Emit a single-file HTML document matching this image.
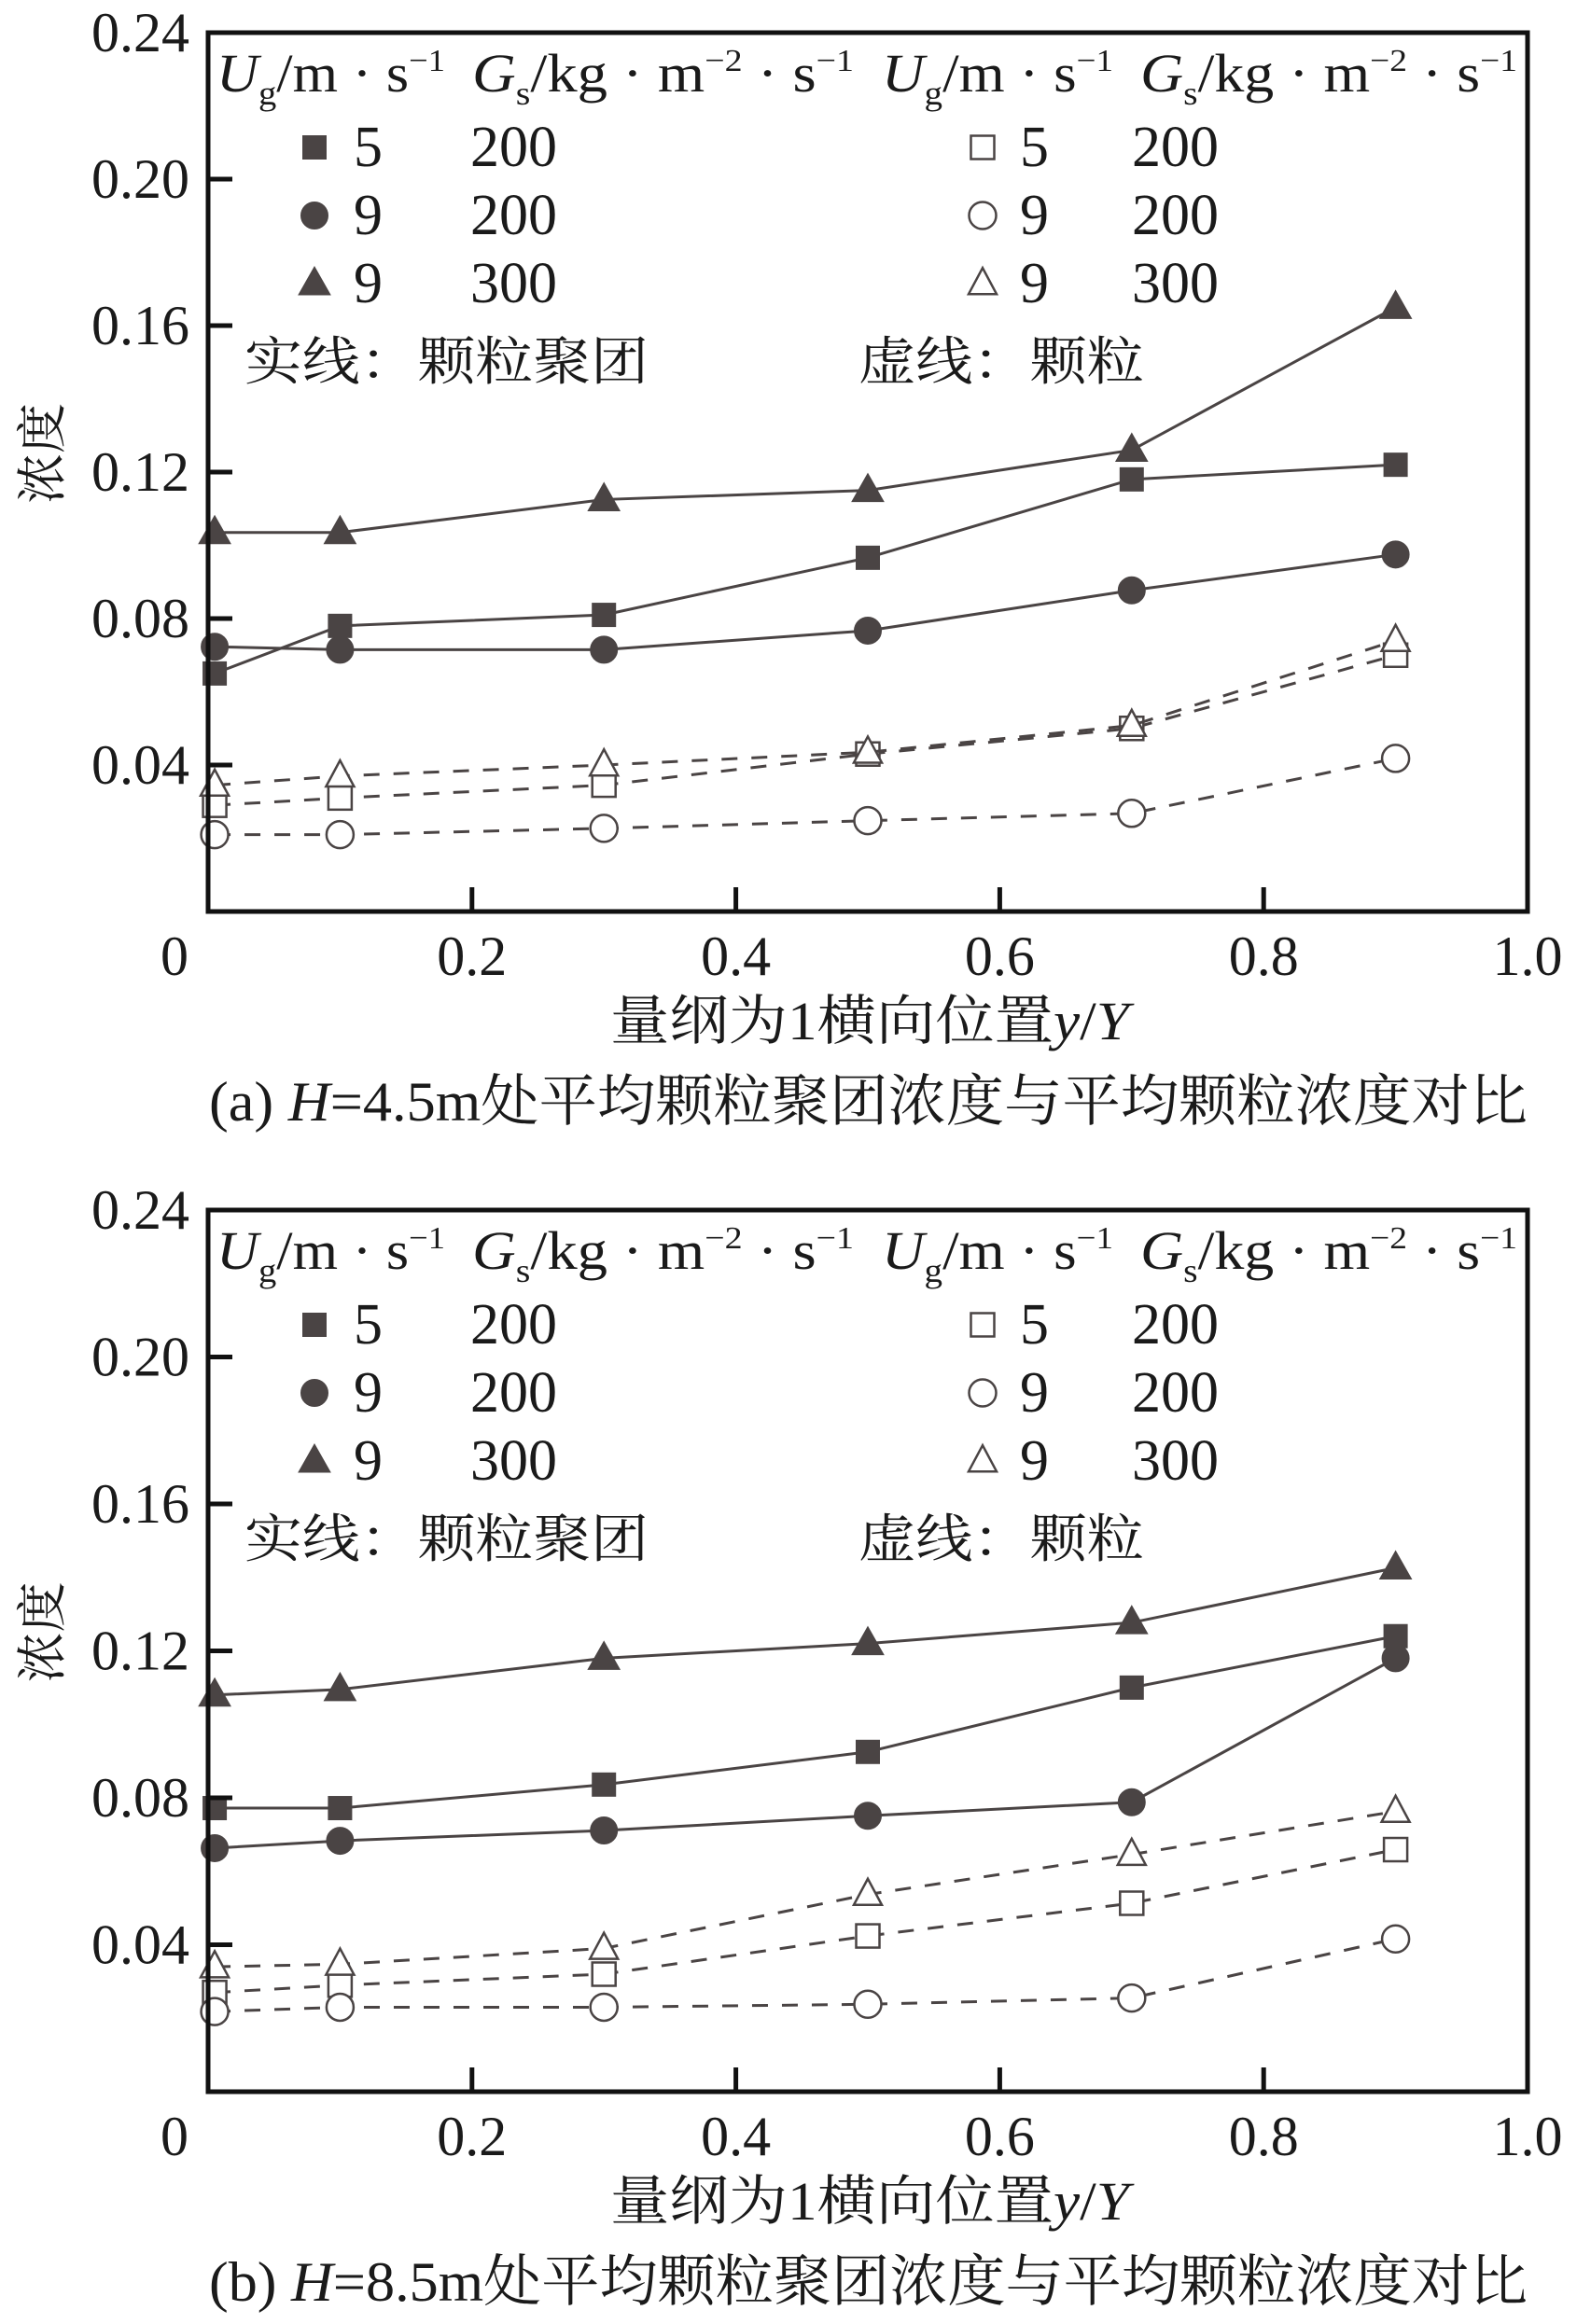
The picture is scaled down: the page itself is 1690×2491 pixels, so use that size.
<!DOCTYPE html>
<html><head><meta charset="utf-8"><style>
html,body{margin:0;padding:0;background:#fff;}
svg{display:block;}
text{font-family:"Liberation Serif","Noto Serif CJK SC","Noto Sans CJK SC",serif;fill:#1a1a1a;}
</style></head><body>
<svg id="chart" width="1690" height="2491" viewBox="0 0 1690 2491" xmlns="http://www.w3.org/2000/svg"></svg>
<script>
const xValues = [0.005, 0.1, 0.3, 0.5, 0.7, 0.9];
const yTicks = [0.04, 0.08, 0.12, 0.16, 0.20, 0.24];
const yTickLabels = ["0.04","0.08","0.12","0.16","0.20","0.24"];
const xTicks = [0, 0.2, 0.4, 0.6, 0.8, 1.0];
const xTickLabels = ["0","0.2","0.4","0.6","0.8","1.0"];
// panel a
const aTriFilled = [0.1035,0.1035,0.1125,0.115,0.126,0.165];
const aSqFilled = [0.065,0.078,0.081,0.0966,0.118,0.122];
const aCirFilled = [0.0723,0.0715,0.0715,0.0767,0.0877,0.0975];
const aTriOpen = [0.0345,0.037,0.040,0.0435,0.0508,0.074];
const aSqOpen = [0.029,0.031,0.0345,0.043,0.050,0.070];
const aCirOpen = [0.021,0.021,0.0227,0.0248,0.0268,0.0418];
// panel b
const bTriFilled = [0.108,0.1095,0.118,0.122,0.1277,0.1426];
const bSqFilled = [0.0772,0.0772,0.0836,0.0925,0.110,0.124];
const bCirFilled = [0.0663,0.0683,0.0711,0.0751,0.0788,0.118];
const bTriOpen = [0.034,0.0347,0.039,0.0537,0.0646,0.0763];
const bSqOpen = [0.027,0.029,0.032,0.0424,0.0513,0.0659];
const bCirOpen = [0.0218,0.023,0.023,0.0238,0.0255,0.0416];

const NS="http://www.w3.org/2000/svg";
const svg=document.getElementById('chart');
const C="#4a4444";
function mk(tag,attrs,parent){const e=document.createElementNS(NS,tag);for(const k in attrs)e.setAttribute(k,attrs[k]);(parent||svg).appendChild(e);return e;}
function txt(parent,x,y,s,size,anchor,len){const t=mk('text',{x:x,y:y,'font-size':size,'text-anchor':anchor||'start'},parent);t.innerHTML=s;if(len){t.setAttribute('textLength',len);t.setAttribute('lengthAdjust','spacingAndGlyphs');}return t;}

function marker(g,shape,filled,cx,cy){
  const fill=filled?C:'#fff', st={fill:fill,stroke:C,'stroke-width':filled?1:2.5};
  let e;
  if(shape==='sq'){const s=25;e=mk('rect',Object.assign({x:cx-s/2,y:cy-s/2,width:s,height:s},st),g);}
  else if(shape==='cir'){e=mk('circle',Object.assign({cx:cx,cy:cy,r:14.5},st),g);}
  else{const w=filled?17:15,h=filled?30:28;e=mk('polygon',Object.assign({points:`${cx},${cy-h*0.6} ${cx-w},${cy+h*0.4} ${cx+w},${cy+h*0.4}`},st),g);}
  return e;
}

function panel(id,top,bottom,series,caption){
  const L=223,R=1637;
  const g=mk('g',{});
  
  
  const sx=v=>L+v*(R-L);
  const sy=v=>bottom-v/0.24*(bottom-top);
  series.forEach(s=>{
    const sg=mk('g',{},g);
    
    
    const pts=s.vals.map((v,i)=>sx(xValues[i])+','+sy(v)).join(' ');
    const pl=mk('polyline',{points:pts,fill:'none',stroke:C,'stroke-width':3,'stroke-dasharray':s.filled?'none':'17,15'},sg);
    
    
    s.vals.forEach((v,i)=>{
      const m=marker(sg,s.shape,s.filled,sx(xValues[i]),sy(v));
      
      
    });
  });
  const fr=mk('rect',{x:L,y:top,width:R-L,height:bottom-top,fill:'none',stroke:'#111','stroke-width':5},g);
  
  
  yTicks.forEach((v,i)=>{
    const t=mk('line',{x1:L,x2:L+26,y1:sy(v),y2:sy(v),stroke:'#111','stroke-width':5},g);
    
    
    const lb=txt(g,L-20,sy(v)+20,yTickLabels[i],60,'end');
    
    
  });
  xTicks.forEach((v,i)=>{
    if(i>0&&i<xTicks.length-1){
      const t=mk('line',{x1:sx(v),x2:sx(v),y1:bottom,y2:bottom-26,stroke:'#111','stroke-width':5},g);
      
      
    }
    const xx=i===0?sx(v)-36:sx(v);
    const lb=txt(g,xx,bottom+68,xTickLabels[i],60,'middle');
    
    
  });
  const xt=txt(g,654,bottom+137,'量纲为1横向位置<tspan font-style="italic">y</tspan>/<tspan font-style="italic">Y</tspan>',58,'start',556);
  
  
  const yt=txt(g,0,0,'浓度',54,'middle');
  yt.setAttribute('transform',`translate(64,${(top+bottom)/2-20}) rotate(-90)`);
  
  
  const cp=txt(g,224,bottom+224,caption,60,'start',1413);
  
  
  const lg=mk('g',{},g);
  
  
  const hy=top+63;
  const head='<tspan font-style="italic">U</tspan><tspan font-size="36" dy="14">g</tspan><tspan dy="-14">/m · s</tspan><tspan font-size="34" dy="-22">−1</tspan>';
  const head2='<tspan font-style="italic">G</tspan><tspan font-size="36" dy="14">s</tspan><tspan dy="-14">/kg · m</tspan><tspan font-size="34" dy="-22">−2</tspan><tspan dy="22"> · s</tspan><tspan font-size="34" dy="-22">−1</tspan>';
  [[232,head,245],[506,head2,409],[945,head,248],[1222,head2,404]].forEach(([x,h,len])=>{
    const t=txt(lg,x,hy,h,58,'start',len);
    
    
  });
  const rows=[['sq','5','200'],['cir','9','200'],['tri','9','300']];
  rows.forEach((r,i)=>{
    const y=top+143+i*73;
    [[337,true,379,504],[1053,false,1093,1213]].forEach(([mx,f,nx,vx])=>{
      const e=mk('g',{},lg);
      
      
      marker(e,r[0],f,mx,y-20);
      txt(e,nx,y,r[1],62,'start');
      txt(e,vx,y,r[2],62,'start');
    });
  });
  const n1=txt(lg,262,top+372,'实线：颗粒聚团',56,'start',433);
  
  
  const n2=txt(lg,920,top+372,'虚线：颗粒',56,'start',306);
  
  
}
panel('panel-a',35,977,[
  {name:'a-cluster-ug5-gs200',shape:'sq',filled:true,vals:aSqFilled},
  {name:'a-cluster-ug9-gs200',shape:'cir',filled:true,vals:aCirFilled},
  {name:'a-cluster-ug9-gs300',shape:'tri',filled:true,vals:aTriFilled},
  {name:'a-particle-ug5-gs200',shape:'sq',filled:false,vals:aSqOpen},
  {name:'a-particle-ug9-gs200',shape:'cir',filled:false,vals:aCirOpen},
  {name:'a-particle-ug9-gs300',shape:'tri',filled:false,vals:aTriOpen}
],'(a) <tspan font-style="italic">H</tspan>=4.5m处平均颗粒聚团浓度与平均颗粒浓度对比');
panel('panel-b',1297,2242,[
  {name:'b-cluster-ug5-gs200',shape:'sq',filled:true,vals:bSqFilled},
  {name:'b-cluster-ug9-gs200',shape:'cir',filled:true,vals:bCirFilled},
  {name:'b-cluster-ug9-gs300',shape:'tri',filled:true,vals:bTriFilled},
  {name:'b-particle-ug5-gs200',shape:'sq',filled:false,vals:bSqOpen},
  {name:'b-particle-ug9-gs200',shape:'cir',filled:false,vals:bCirOpen},
  {name:'b-particle-ug9-gs300',shape:'tri',filled:false,vals:bTriOpen}
],'(b) <tspan font-style="italic">H</tspan>=8.5m处平均颗粒聚团浓度与平均颗粒浓度对比');
</script>
</body></html>
